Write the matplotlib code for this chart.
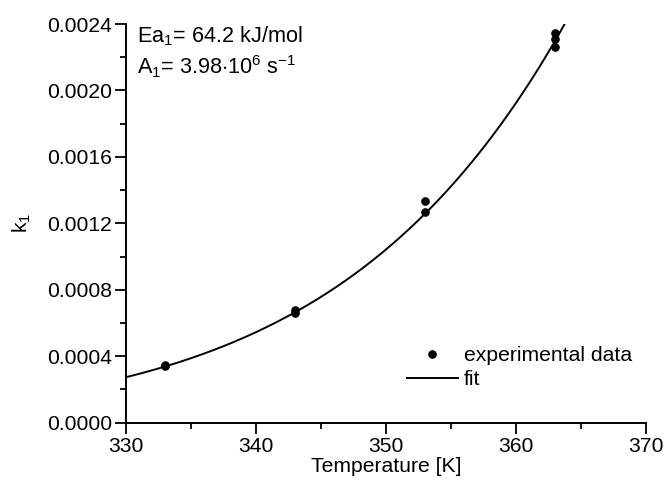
import numpy as np
import matplotlib
matplotlib.use("Agg")
import matplotlib.pyplot as plt
from matplotlib.lines import Line2D

# ---- data ----
T_exp = [333, 333, 343, 343, 353, 353, 363, 363, 363]
k_exp = [0.000340, 0.000345, 0.000660, 0.000680, 0.001270, 0.001336, 0.002263, 0.002308, 0.002346]
Ea1 = 64.2e3      # J/mol (from the annotation)
A1 = 3.98e6       # 1/s   (from the annotation)
x_ticks = [330, 340, 350, 360, 370]
y_ticks = [0.0000, 0.0004, 0.0008, 0.0012, 0.0016, 0.0020, 0.0024]

R = 8.314
T_fit = np.linspace(330, 365, 300)
k_fit = A1 * np.exp(-Ea1 / (R * T_fit))

plt.rcParams['font.family'] = ['Liberation Sans', 'DejaVu Sans']
plt.rcParams['mathtext.fontset'] = 'custom'
plt.rcParams['mathtext.rm'] = 'Liberation Sans'
plt.rcParams['mathtext.it'] = 'Liberation Sans:italic'
plt.rcParams['mathtext.sf'] = 'Liberation Sans'
FS = 15.2

fig = plt.figure(figsize=(6.64, 4.82), dpi=100)
ax = fig.add_axes([126/664, 1-422.7/482, (646-126)/664, (422.7-24)/482])

ax.plot(T_fit, k_fit, color='black', lw=1.4, label='fit', clip_on=True)
ax.plot(T_exp, k_exp, 'o', color='black', ms=5.2, ls='none', label='experimental data')

ax.set_xlim(330, 370)
ax.set_ylim(0, 0.0024)
ax.set_xticks(x_ticks)
ax.set_yticks(y_ticks)
ax.set_xticklabels([str(v) for v in x_ticks], fontsize=FS)
ax.set_yticklabels([f"{v:.4f}" for v in y_ticks], fontsize=FS)
ax.set_xticks([335, 345, 355, 365], minor=True)
ax.set_yticks([0.0002, 0.0006, 0.0010, 0.0014, 0.0018, 0.0022], minor=True)
ax.tick_params(which='major', direction='out', length=8, width=1.3, pad=2)
ax.tick_params(which='minor', direction='out', length=4.5, width=1.3)
for s in ['top', 'right']:
    ax.spines[s].set_visible(False)
for s in ['left', 'bottom']:
    ax.spines[s].set_linewidth(1.4)

ax.set_xlabel('Temperature [K]', fontsize=FS, labelpad=1)
ax.set_ylabel(r'$\mathregular{k_1}$', fontsize=FS, labelpad=10)

fig.text(137/664, 1-42/482, r'Ea$_1$= 64.2 kJ/mol', fontsize=15.6, ha='left', va='baseline')
fig.text(137/664, 1-74/482, r'A$_1$= 3.98$\cdot$10$^6$ s$^{-1}$', fontsize=15.6, ha='left', va='baseline')

handles = [Line2D([], [], marker='o', color='black', ls='none', ms=5.2),
           Line2D([], [], color='black', lw=1.4)]
leg = ax.legend(handles, ['experimental data', 'fit'], frameon=False, fontsize=FS,
                loc='upper left', bbox_to_anchor=(407/664, 1-346/482),
                bbox_transform=fig.transFigure, borderpad=0, borderaxespad=0,
                handlelength=2.4, handletextpad=0.3, labelspacing=0.25)

fig.savefig('out.png', dpi=100)
